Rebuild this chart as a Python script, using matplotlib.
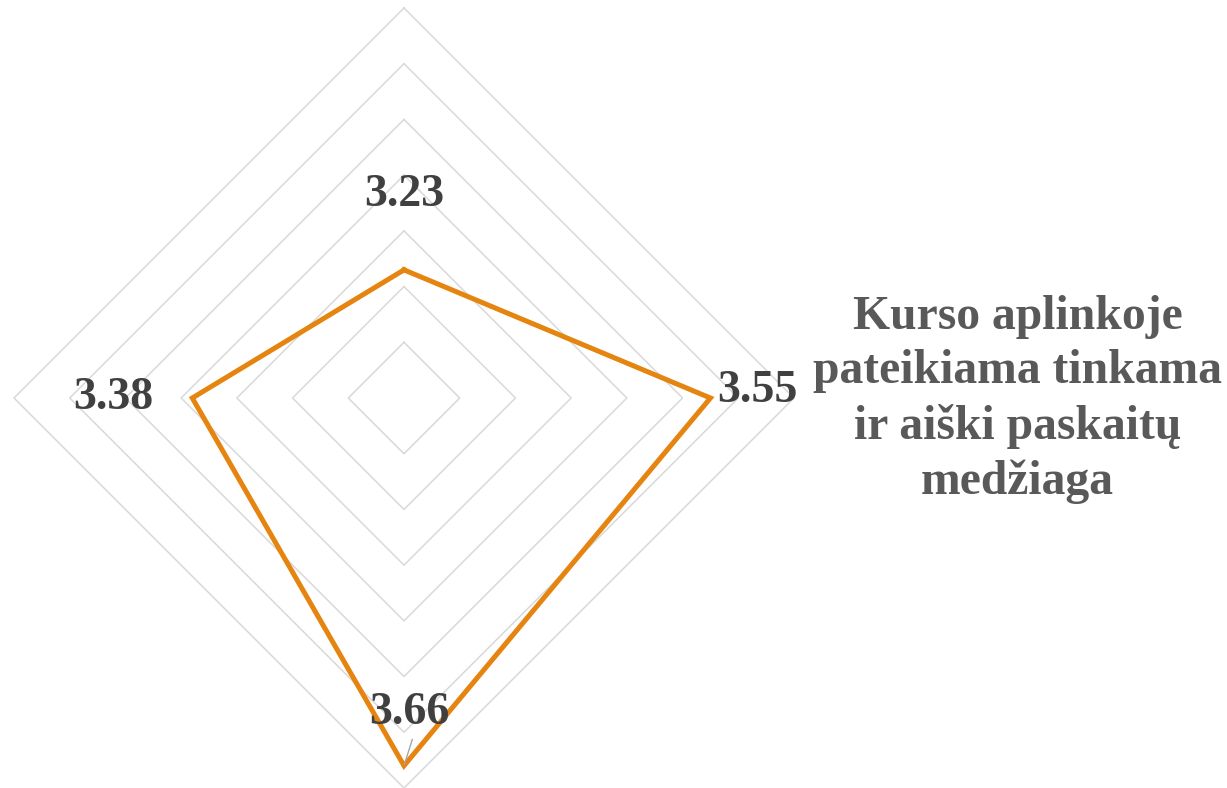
import numpy as np
import matplotlib
matplotlib.use("Agg")
import matplotlib.pyplot as plt

# Dane: reikšmės pagal ašis (pagal laikrodžio rodyklę nuo viršaus)
categories = ["", "Kurso aplinkoje\npateikiama tinkama\nir aiški paskaitų\nmedžiaga", "", ""]
values = [3.23, 3.55, 3.66, 3.38]
value_labels = ["3.23", "3.55", "3.66", "3.38"]
grid_levels = [3.1, 3.2, 3.3, 3.4, 3.5, 3.6, 3.7]
r_min, r_max = 3.0, 3.7

ORANGE = "#E5850F"
GRID = "#D9D9D9"
LABEL = "#404040"
CAT = "#595959"

plt.rcParams['font.family'] = ['Liberation Serif', 'DejaVu Serif']

fig = plt.figure(figsize=(12.27, 7.88), dpi=100)
ax = fig.add_axes([14 / 1227, 0, 780 / 1227, 780 / 788], projection='polar')
ax.set_theta_offset(np.pi / 2)
ax.set_theta_direction(-1)
ax.set_ylim(r_min, r_max)
ax.grid(False)
ax.spines['polar'].set_visible(False)
ax.set_xticks([])
ax.set_yticks([])
ax.patch.set_visible(False)

angles = np.linspace(0, 2 * np.pi, len(values), endpoint=False)
closed = np.concatenate([angles, angles[:1]])

# tinklelis (rombai)
for lvl in grid_levels:
    ax.plot(closed, [lvl] * len(closed), color=GRID, lw=1.1, clip_on=False, zorder=1)

vals_closed = values + values[:1]
ax.plot(closed, vals_closed, color=ORANGE, lw=3.6, clip_on=False, zorder=3,
        solid_joinstyle='miter')

# duomenų žymos
offsets = [(0, 54), (34, 5), (4, 38), (-57, 0)]
for a, v, txt, off in zip(angles, values, value_labels, offsets):
    ax.annotate(txt, xy=(a, v), xytext=off, textcoords='offset points',
                ha='center', va='center', fontsize=33, fontweight='bold',
                color=LABEL, zorder=4, annotation_clip=False)

# mažas vedlys prie 3.66
ax.annotate("", xy=(angles[2], values[2]), xytext=(6, 19), textcoords='offset points',
            arrowprops=dict(arrowstyle='-', color='#A6A6A6', lw=1,
                            shrinkA=0, shrinkB=1), annotation_clip=False)

# kategorijų pavadinimai
for a, cat in zip(angles, categories):
    if not cat:
        continue
    ax.annotate(cat, xy=(a, r_max), xytext=(161, -1), textcoords='offset points',
                ha='center', va='center', multialignment='center', fontsize=34.3,
                fontweight='bold', color=CAT, linespacing=1.3,
                annotation_clip=False)

fig.savefig("out.png", dpi=100)
